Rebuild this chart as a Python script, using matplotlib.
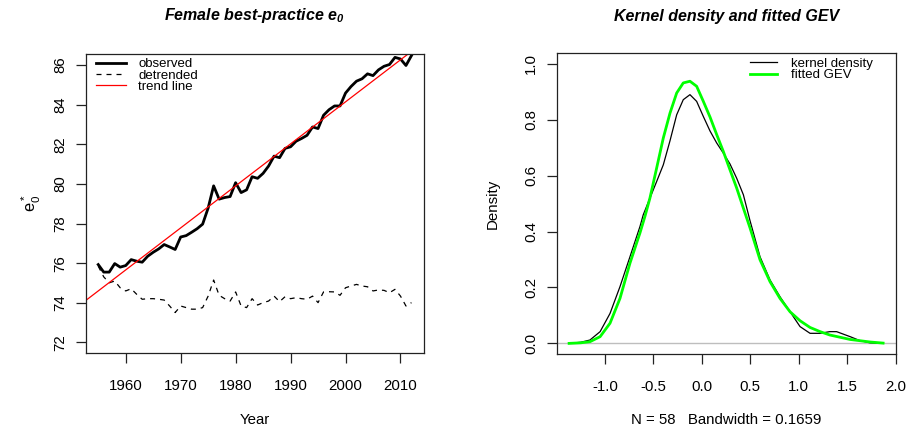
import matplotlib
matplotlib.use("Agg")
import matplotlib.pyplot as plt
import numpy as np

plt.rcParams['font.family'] = ['Liberation Sans', 'DejaVu Sans']

# ---------------- data ----------------
years = list(range(1955, 2013))
observed = [75.93, 75.55, 75.55, 75.98, 75.80, 75.88, 76.18, 76.10, 76.05, 76.35,
            76.55, 76.72, 76.94, 76.82, 76.69, 77.32, 77.39, 77.56, 77.74, 77.97,
            78.78, 79.90, 79.23, 79.31, 79.36, 80.06, 79.56, 79.70, 80.36, 80.28,
            80.53, 80.90, 81.40, 81.32, 81.79, 81.87, 82.15, 82.29, 82.45, 82.87,
            82.79, 83.46, 83.74, 83.93, 83.93, 84.58, 84.91, 85.18, 85.30, 85.55,
            85.46, 85.75, 85.93, 86.02, 86.38, 86.30, 85.97, 86.47]
detrended = [75.85, 75.31, 75.01, 75.10, 74.76, 74.60, 74.71, 74.43, 74.18, 74.21,
             74.21, 74.18, 74.14, 73.84, 73.51, 73.84, 73.76, 73.68, 73.68, 73.76,
             74.34, 75.15, 74.38, 74.21, 74.09, 74.55, 73.84, 73.76, 74.21, 73.89,
             74.01, 74.09, 74.34, 74.06, 74.31, 74.21, 74.26, 74.21, 74.18, 74.34,
             74.01, 74.55, 74.56, 74.55, 74.38, 74.76, 74.85, 74.93, 74.85, 74.81,
             74.60, 74.65, 74.63, 74.51, 74.68, 74.34, 73.84, 74.01]
trend_years = [1955, 2012]
trend_values = [74.60, 86.68]

kde_x = [-1.37, -1.25, -1.155, -1.05, -0.948, -0.845, -0.742, -0.639, -0.605, -0.536,
         -0.467, -0.398, -0.329, -0.26, -0.192, -0.123, -0.054, 0.015, 0.084, 0.153,
         0.221, 0.29, 0.359, 0.428, 0.496, 0.6, 0.703, 0.806, 0.91, 1.013,
         1.116, 1.22, 1.32, 1.39, 1.53, 1.63, 1.735, 1.87]
kde_y = [0.0, 0.004, 0.012, 0.042, 0.107, 0.203, 0.31, 0.418, 0.46, 0.52,
         0.579, 0.639, 0.725, 0.818, 0.872, 0.89, 0.866, 0.812, 0.76, 0.717,
         0.681, 0.642, 0.591, 0.532, 0.44, 0.31, 0.227, 0.167, 0.113, 0.06,
         0.036, 0.036, 0.042, 0.042, 0.024, 0.01, 0.002, 0.0]
gev_x = [-1.37, -1.25, -1.155, -1.05, -0.948, -0.845, -0.742, -0.639, -0.587, -0.536,
         -0.467, -0.398, -0.329, -0.26, -0.192, -0.123, -0.054, 0.015, 0.084, 0.153,
         0.221, 0.29, 0.359, 0.428, 0.496, 0.6, 0.703, 0.806, 0.91, 1.013,
         1.116, 1.22, 1.32, 1.53, 1.735, 1.87]
gev_y = [0.0, 0.002, 0.006, 0.024, 0.072, 0.161, 0.287, 0.395, 0.455, 0.52,
         0.627, 0.735, 0.824, 0.896, 0.932, 0.938, 0.92, 0.866, 0.81, 0.747,
         0.687, 0.621, 0.556, 0.484, 0.414, 0.299, 0.221, 0.161, 0.113, 0.081,
         0.057, 0.042, 0.03, 0.014, 0.005, 0.001]

left_yticks = [72, 74, 76, 78, 80, 82, 84, 86]
left_xticks = [1960, 1970, 1980, 1990, 2000, 2010]
right_xticks = [-1.0, -0.5, 0.0, 0.5, 1.0, 1.5, 2.0]
right_yticks = [0.0, 0.2, 0.4, 0.6, 0.8, 1.0]

# ---------------- figure ----------------
W, H = 909, 429
fig = plt.figure(figsize=(W / 100, H / 100), dpi=100)

def px_axes(l, r, t, b):
    return fig.add_axes([l / W, 1 - b / H, (r - l) / W, (b - t) / H])

ax1 = px_axes(85.7, 424, 54, 353)
ax2 = px_axes(556.7, 896, 53.3, 354)

TICK_FS = 10.8
for ax in (ax1, ax2):
    for s in ax.spines.values():
        s.set_linewidth(0.9)
        s.set_color('#222222')
    ax.tick_params(direction='out', length=7, width=0.9, color='#222222',
                   labelsize=TICK_FS)
    ax.tick_params(axis='x', pad=11.5)
    ax.tick_params(axis='y', pad=6.5)

# left panel
ax1.plot(years, observed, color='black', lw=2.0, label='observed')
ax1.plot(years, detrended, color='black', lw=0.9, dashes=(4, 4), label='detrended')
ax1.axline((trend_years[0], trend_values[0]), (trend_years[1], trend_values[1]),
           color='#ff0000', lw=0.9, label='trend line')
ax1.set_xlim(1952.72, 2014.28)
ax1.set_ylim(71.47, 86.55)
ax1.set_xticks(left_xticks)
ax1.set_yticks(left_yticks)
ax1.set_yticklabels([str(v) for v in left_yticks])
for lbl in ax1.get_yticklabels():
    lbl.set_rotation(90)
    lbl.set_va('center')
ax1.set_xlabel('Year', fontsize=TICK_FS)
ax1.xaxis.set_label_coords(0.5, -0.224)
ax1.xaxis.label.set_va('center')
ax1.set_ylabel(r'$\mathregular{e_0^*}$', fontsize=TICK_FS + 1)
ax1.yaxis.set_label_coords(-0.16, 0.5)
ax1.yaxis.label.set_va('center')
ax1.set_title(r'Female best-practice $\mathregular{e_0}$', fontsize=11.5,
              fontweight='bold', fontstyle='italic', y=1.10, va='center')
leg1 = ax1.legend(loc='upper left', bbox_to_anchor=(0.03, 0.987), frameon=False,
                  fontsize=9.5, labelspacing=-0.06, handlelength=2.3,
                  handletextpad=0.9, borderpad=0, borderaxespad=0)

# right panel
ax2.axhline(0, color='#bebebe', lw=1.0)
ax2.plot(kde_x, kde_y, color='black', lw=0.9, label='kernel density')
ax2.plot(gev_x, gev_y, color='#00ff00', lw=2.0, label='fitted GEV')
ax2.set_xlim(-1.498, 2.003)
ax2.set_ylim(-0.038, 1.038)
ax2.set_xticks(right_xticks)
ax2.set_xticklabels(['%.1f' % v for v in right_xticks])
ax2.set_yticks(right_yticks)
ax2.set_yticklabels(['%.1f' % v for v in right_yticks])
for lbl in ax2.get_yticklabels():
    lbl.set_rotation(90)
    lbl.set_va('center')
ax2.set_xlabel('N = 58   Bandwidth = 0.1659', fontsize=TICK_FS)
ax2.xaxis.set_label_coords(0.5, -0.2195)
ax2.xaxis.label.set_va('center')
ax2.set_ylabel('Density', fontsize=TICK_FS)
ax2.yaxis.set_label_coords(-0.188, 0.5)
ax2.yaxis.label.set_va('center')
ax2.set_title('Kernel density and fitted GEV', fontsize=11.5,
              fontweight='bold', fontstyle='italic', y=1.095, va='center')
leg2 = ax2.legend(loc='upper left', bbox_to_anchor=(0.569, 0.985), frameon=False,
                  fontsize=9.5, labelspacing=-0.08, handlelength=2.1,
                  handletextpad=1.0, borderpad=0, borderaxespad=0)

fig.savefig('out.png', dpi=100)
